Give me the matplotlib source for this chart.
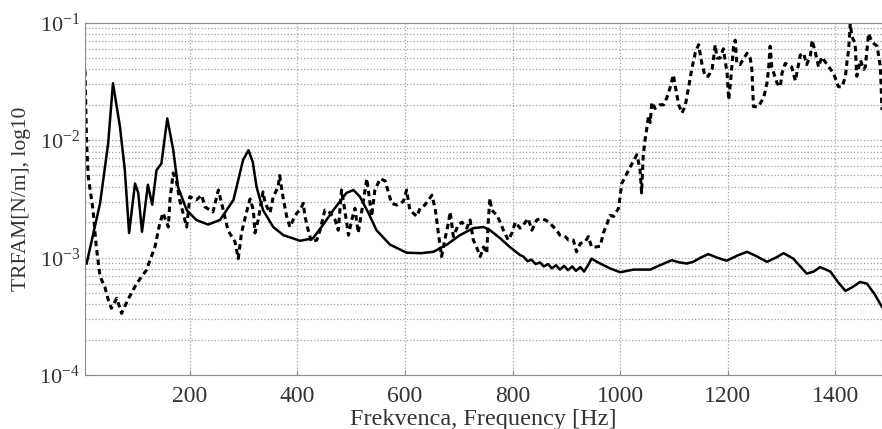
import numpy as np
import matplotlib
matplotlib.use("Agg")
import matplotlib.pyplot as plt

plt.rcParams['font.family'] = ['Liberation Serif', 'DejaVu Serif']
plt.rcParams['mathtext.fontset'] = 'custom'
plt.rcParams['mathtext.rm'] = 'Liberation Serif'
plt.rcParams['mathtext.it'] = 'Liberation Serif:italic'

# solid curve (frequency [Hz], TRFAM [N/m])
f_solid = [8, 33, 48, 57, 70, 79, 87, 98, 104, 111, 122, 130, 138, 147, 158, 169, 178,
           194, 212, 234, 256, 281, 299, 309, 317, 324, 336, 355, 374, 405, 429, 445,
           467, 491, 504, 516, 532, 547, 572, 603, 630, 653, 678, 702, 727, 746, 758,
           777, 795, 814, 820, 828, 835, 843, 851, 858, 866, 873, 881, 888, 896, 903,
           911, 918, 926, 933, 941, 947, 955, 963, 981, 1000, 1025, 1056, 1074, 1096,
           1110, 1124, 1136, 1150, 1164, 1180, 1198, 1218, 1236, 1255, 1273, 1290, 1304,
           1322, 1347, 1360, 1372, 1391, 1405, 1419, 1432, 1446, 1459, 1473, 1487]
v_solid = [8.9e-4, 2.9e-3, 9.3e-3, 3.05e-2, 1.3e-2, 5.6e-3, 1.62e-3, 4.27e-3, 3.55e-3,
           1.66e-3, 4.17e-3, 2.82e-3, 5.56e-3, 6.3e-3, 1.53e-2, 8.3e-3, 3.98e-3,
           2.54e-3, 2.09e-3, 1.91e-3, 2.09e-3, 3.09e-3, 6.8e-3, 8.2e-3, 6.5e-3, 4.0e-3,
           2.54e-3, 1.82e-3, 1.55e-3, 1.39e-3, 1.46e-3, 1.83e-3, 2.54e-3, 3.55e-3,
           3.76e-3, 3.31e-3, 2.4e-3, 1.71e-3, 1.29e-3, 1.1e-3, 1.09e-3, 1.12e-3, 1.29e-3,
           1.55e-3, 1.78e-3, 1.82e-3, 1.71e-3, 1.46e-3, 1.23e-3, 1.05e-3, 1.02e-3,
           9.3e-4, 9.6e-4, 8.8e-4, 9.1e-4, 8.4e-4, 8.8e-4, 8.1e-4, 8.6e-4, 7.9e-4,
           8.5e-4, 7.8e-4, 8.4e-4, 7.7e-4, 8.3e-4, 7.6e-4, 8.7e-4, 9.8e-4, 9.3e-4,
           8.9e-4, 8.1e-4, 7.5e-4, 7.9e-4, 7.9e-4, 8.6e-4, 9.5e-4, 9.1e-4, 8.9e-4,
           9.2e-4, 1.0e-3, 1.07e-3, 1.0e-3, 9.4e-4, 1.04e-3, 1.12e-3, 1.02e-3, 9.2e-4,
           1.0e-3, 1.09e-3, 9.8e-4, 7.3e-4, 7.6e-4, 8.3e-4, 7.6e-4, 6.2e-4, 5.2e-4,
           5.6e-4, 6.2e-4, 6.0e-4, 4.9e-4, 3.8e-4]

# dashed curve
f_dash = [5, 8, 11, 20, 26, 33, 42, 48, 54, 64, 73, 85, 101, 119, 135, 144, 150, 160,
          163, 169, 175, 181, 194, 200, 212, 222, 228, 243, 253, 259, 271, 284, 290,
          296, 305, 312, 318, 321, 327, 336, 340, 349, 355, 364, 367, 374, 380, 386,
          392, 399, 405, 411, 414, 420, 426, 436, 442, 451, 461, 470, 476, 482, 488,
          495, 501, 507, 513, 522, 529, 535, 538, 544, 554, 563, 569, 575, 585, 597,
          603, 609, 622, 628, 637, 650, 656, 659, 662, 668, 674, 681, 684, 690, 699,
          706, 715, 721, 727, 733, 740, 746, 752, 755, 758, 761, 771, 777, 783, 792,
          799, 805, 814, 820, 829, 836, 845, 851, 861, 870, 882, 888, 898, 904, 913,
          919, 926, 935, 941, 947, 954, 963, 969, 975, 981, 988, 997, 1000, 1003,
          1013, 1022, 1031, 1037, 1040, 1043, 1047, 1050, 1053, 1056, 1059, 1065,
          1074, 1081, 1087, 1093, 1099, 1105, 1109, 1115, 1121, 1127, 1133, 1140,
          1146, 1152, 1158, 1164, 1171, 1177, 1180, 1186, 1192, 1195, 1199, 1202,
          1205, 1211, 1214, 1217, 1223, 1236, 1242, 1245, 1248, 1257, 1267, 1273,
          1276, 1279, 1282, 1292, 1298, 1301, 1307, 1319, 1326, 1335, 1341, 1347,
          1354, 1357, 1363, 1369, 1375, 1385, 1397, 1406, 1413, 1419, 1422, 1425,
          1428, 1431, 1437, 1440, 1447, 1453, 1456, 1462, 1468, 1471, 1478, 1484, 1487]
v_dash = [3.9e-2, 9.3e-3, 4.9e-3, 2.54e-3, 1.23e-3, 6.9e-4, 5.6e-4, 4.4e-4, 3.7e-4,
          4.5e-4, 3.35e-4, 4.4e-4, 6.0e-4, 7.8e-4, 1.23e-3, 1.95e-3, 2.4e-3, 1.82e-3,
          3.1e-3, 5.25e-3, 4.5e-3, 3.1e-3, 1.82e-3, 3.3e-3, 3.1e-3, 3.4e-3, 2.7e-3,
          2.45e-3, 3.76e-3, 2.9e-3, 1.7e-3, 1.36e-3, 9.8e-4, 1.62e-3, 2.4e-3, 3.16e-3,
          2.54e-3, 1.62e-3, 2.09e-3, 3.63e-3, 2.9e-3, 2.4e-3, 3.3e-3, 3.98e-3, 5.0e-3,
          3.1e-3, 2.24e-3, 1.82e-3, 2.09e-3, 2.4e-3, 2.54e-3, 2.9e-3, 2.24e-3, 1.71e-3,
          1.36e-3, 1.41e-3, 1.71e-3, 2.54e-3, 2.4e-3, 2.09e-3, 1.71e-3, 3.76e-3,
          2.54e-3, 1.55e-3, 2.09e-3, 2.63e-3, 1.62e-3, 2.9e-3, 4.7e-3, 2.9e-3, 2.24e-3,
          3.76e-3, 4.7e-3, 4.5e-3, 3.63e-3, 2.9e-3, 2.8e-3, 3.0e-3, 3.76e-3, 2.54e-3,
          2.24e-3, 2.63e-3, 2.8e-3, 3.4e-3, 2.63e-3, 2.09e-3, 1.62e-3, 1.02e-3, 1.41e-3,
          2.0e-3, 2.45e-3, 1.51e-3, 1.9e-3, 2.0e-3, 1.78e-3, 2.09e-3, 1.41e-3, 1.23e-3,
          1.02e-3, 1.23e-3, 1.09e-3, 2.09e-3, 3.2e-3, 2.54e-3, 2.29e-3, 2.0e-3, 1.71e-3,
          1.41e-3, 1.62e-3, 2.0e-3, 1.78e-3, 1.9e-3, 2.15e-3, 1.71e-3, 2.09e-3, 2.15e-3,
          2.09e-3, 1.95e-3, 1.71e-3, 1.55e-3, 1.51e-3, 1.41e-3, 1.41e-3, 1.12e-3,
          1.32e-3, 1.36e-3, 1.51e-3, 1.23e-3, 1.23e-3, 1.25e-3, 1.62e-3, 1.9e-3,
          2.29e-3, 2.24e-3, 2.63e-3, 3.3e-3, 4.27e-3, 5.25e-3, 6.3e-3, 7.5e-3, 5.75e-3,
          3.55e-3, 7.4e-3, 1.05e-2, 1.29e-2, 1.62e-2, 1.41e-2, 2.1e-2, 1.86e-2, 2.0e-2,
          2.0e-2, 2.3e-2, 2.8e-2, 3.6e-2, 2.5e-2, 2.0e-2, 1.7e-2, 1.95e-2, 2.75e-2,
          3.98e-2, 5.6e-2, 6.5e-2, 4.5e-2, 3.5e-2, 3.5e-2, 4.0e-2, 6.5e-2, 5.0e-2,
          5.0e-2, 6.0e-2, 4.9e-2, 3.7e-2, 2.2e-2, 3.0e-2, 6.3e-2, 7.1e-2, 4.5e-2,
          4.4e-2, 5.5e-2, 5.0e-2, 4.0e-2, 1.93e-2, 1.93e-2, 2.3e-2, 3.05e-2, 4.0e-2,
          6.3e-2, 4.2e-2, 3.05e-2, 2.85e-2, 3.7e-2, 4.5e-2, 4.2e-2, 3.2e-2, 5.3e-2,
          5.5e-2, 4.4e-2, 5.3e-2, 7.1e-2, 5.6e-2, 4.2e-2, 5.1e-2, 4.4e-2, 3.7e-2,
          2.85e-2, 2.85e-2, 3.5e-2, 4.7e-2, 5.9e-2, 9.9e-2, 7.6e-2, 6.7e-2, 3.5e-2,
          4.8e-2, 4.0e-2, 4.2e-2, 8.1e-2, 6.9e-2, 6.7e-2, 6.3e-2, 4.2e-2, 1.8e-2]

x_ticks = [200, 400, 600, 800, 1000, 1200, 1400]
y_ticks = [1e-4, 1e-3, 1e-2, 1e-1]

fig = plt.figure(figsize=(8.82, 4.29), dpi=100)
ax = fig.add_axes([85 / 882, 1 - 375 / 429, 797 / 882, (375 - 22.7) / 429])

ax.semilogy(f_solid, v_solid, color='black', lw=1.8)
ax.semilogy(f_dash, v_dash, color='black', lw=2.2, linestyle=(0, (1.8, 1.3)))

ax.set_xlim(5, 1487)
ax.set_ylim(1e-4, 1e-1)
ax.set_xticks(x_ticks)
ax.set_yticks(y_ticks)

ax.grid(True, which='major', linestyle=':', color='#a0a0a0', lw=0.9)
ax.grid(True, which='minor', axis='y', linestyle=':', color='#a0a0a0', lw=0.9)

for s in ax.spines.values():
    s.set_color('#8c8c8c')
ax.tick_params(which='both', direction='in', colors='#8c8c8c', labelcolor='#333333')
ax.tick_params(axis='x', labelsize=17, pad=8)
ax.tick_params(axis='y', labelsize=16)
ax.tick_params(which='minor', length=0)

ax.set_xlabel('Frekvenca, Frequency [Hz]', fontsize=17.5, color='#333333', labelpad=1)
ax.set_ylabel('TRFAM[N/m], log10', fontsize=15.5, color='#333333', labelpad=6)

fig.savefig('out.png', dpi=100)
